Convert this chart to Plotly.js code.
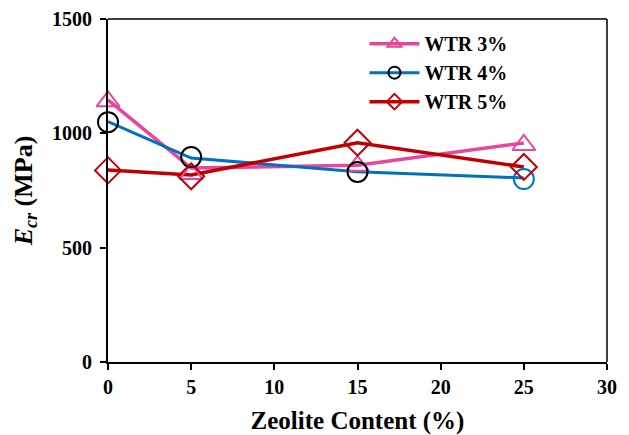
<!DOCTYPE html>
<html>
<head>
<meta charset="utf-8">
<script src="https://cdn.plot.ly/plotly-3.0.1.min.js"></script>
<style>
html,body{margin:0;padding:0;background:#fff;}
#chart{width:629px;height:435px;}
#chart svg text{font-family:'Liberation Serif','Times New Roman',Times,serif !important;}
</style>
</head>
<body>
<div id="chart"></div>
<script>
// Data
const zeolite = [0, 5, 15, 25];
const seriesNames = ['WTR 3%', 'WTR 4%', 'WTR 5%'];
// line values
const wtr3Line = [1146, 848, 860, 958];
const wtr4Line = [1051, 892, 832, 805];
const wtr5Line = [840, 818, 959, 853];
// marker values
const wtr3Marker = [1140, 822, 858, 949];
const wtr4Marker = [1049, 896, 831, 800];
const wtr5Marker = [838, 812, 959, 853];
const xTicks = [0, 5, 10, 15, 20, 25, 30];
const yTicks = [0, 500, 1000, 1500];

const pink = '#E6479B', blue = '#0070C0', red = '#C00000';
const serif = 'Liberation Serif, Times New Roman, serif';

const traces = [
  {x: zeolite, y: wtr3Line, mode: 'lines', line: {color: pink, width: 3.5}, showlegend: false, hoverinfo: 'skip', cliponaxis: false},
  {x: zeolite, y: wtr4Line, mode: 'lines', line: {color: blue, width: 3}, showlegend: false, hoverinfo: 'skip', cliponaxis: false},
  {x: zeolite, y: wtr5Line, mode: 'lines', line: {color: red, width: 3.5}, showlegend: false, hoverinfo: 'skip', cliponaxis: false},
  {x: zeolite, y: wtr3Marker, mode: 'markers', showlegend: false, cliponaxis: false,
   marker: {symbol: 'triangle-up-open', size: 20, color: pink, line: {color: pink, width: 2}}},
  {x: zeolite, y: wtr4Marker, mode: 'markers', showlegend: false, cliponaxis: false,
   marker: {symbol: 'circle-open', size: 20, color: ['#000', '#000', '#000', blue], line: {color: ['#000', '#000', '#000', blue], width: 2}}},
  {x: zeolite, y: wtr5Marker, mode: 'markers', showlegend: false, cliponaxis: false,
   marker: {symbol: 'diamond-open', size: 20, color: red, line: {color: red, width: 2}}},
  // legend entries
  {x: [null], y: [null], name: seriesNames[0], mode: 'lines+markers', line: {color: pink, width: 3.5},
   marker: {symbol: 'triangle-up-open', size: 12, color: pink, line: {color: pink, width: 2}}},
  {x: [null], y: [null], name: seriesNames[1], mode: 'lines+markers', line: {color: blue, width: 3},
   marker: {symbol: 'circle-open', size: 12, color: '#000', line: {color: '#000', width: 2}}},
  {x: [null], y: [null], name: seriesNames[2], mode: 'lines+markers', line: {color: red, width: 3.5},
   marker: {symbol: 'diamond-open', size: 12, color: red, line: {color: red, width: 2}}}
];

const layout = {
  width: 629, height: 435,
  margin: {l: 108, r: 22, t: 19, b: 73},
  paper_bgcolor: '#fff', plot_bgcolor: '#fff',
  font: {family: serif, color: '#000', size: 18},
  xaxis: {
    range: [0, 30], tickvals: xTicks, ticktext: xTicks.map(v => '<b>' + v + '</b>'),
    showgrid: false, zeroline: false, showline: true, linecolor: '#000', linewidth: 2,
    ticks: 'outside', ticklen: 6, tickwidth: 2, tickcolor: '#000',
    tickfont: {size: 20, family: serif, color: '#000'}, automargin: false,
    title: {text: '<b>Zeolite Content (%)</b>', font: {size: 25, family: serif, color: '#000'}, standoff: 14}
  },
  yaxis: {
    range: [0, 1500], tickvals: yTicks, ticktext: yTicks.map(v => '<b>' + v + '</b>'),
    showgrid: false, zeroline: false, showline: true, linecolor: '#000', linewidth: 2,
    ticks: 'outside', ticklen: 6, tickwidth: 2, tickcolor: '#000', ticklabelstandoff: 4,
    tickfont: {size: 20, family: serif, color: '#000'}, automargin: false,
    title: {text: '<b><i>E</i><sub><i>cr</i></sub> (MPa)</b>', font: {size: 26, family: serif, color: '#000'}, standoff: 12}
  },
  shapes: [
    {type: 'line', xref: 'paper', yref: 'paper', x0: 0, x1: 1, y0: 1, y1: 1, line: {color: '#000', width: 1.5}},
    {type: 'line', xref: 'paper', yref: 'paper', x0: 1, x1: 1, y0: 0, y1: 1, line: {color: '#000', width: 1.5}}
  ],
  legend: {
    x: 0.514, y: 0.985, xanchor: 'left', yanchor: 'top',
    bgcolor: 'rgba(0,0,0,0)', borderwidth: 0,
    font: {size: 20, family: serif, color: '#000'},
    itemwidth: 50, tracegroupgap: 0
  },
  showlegend: true
};

// bold legend text
traces.forEach(t => { if (t.name) t.name = '<b>' + t.name + '</b>'; });

Plotly.newPlot('chart', traces, layout, {displayModeBar: false, staticPlot: true});
</script>
</body>
</html>
